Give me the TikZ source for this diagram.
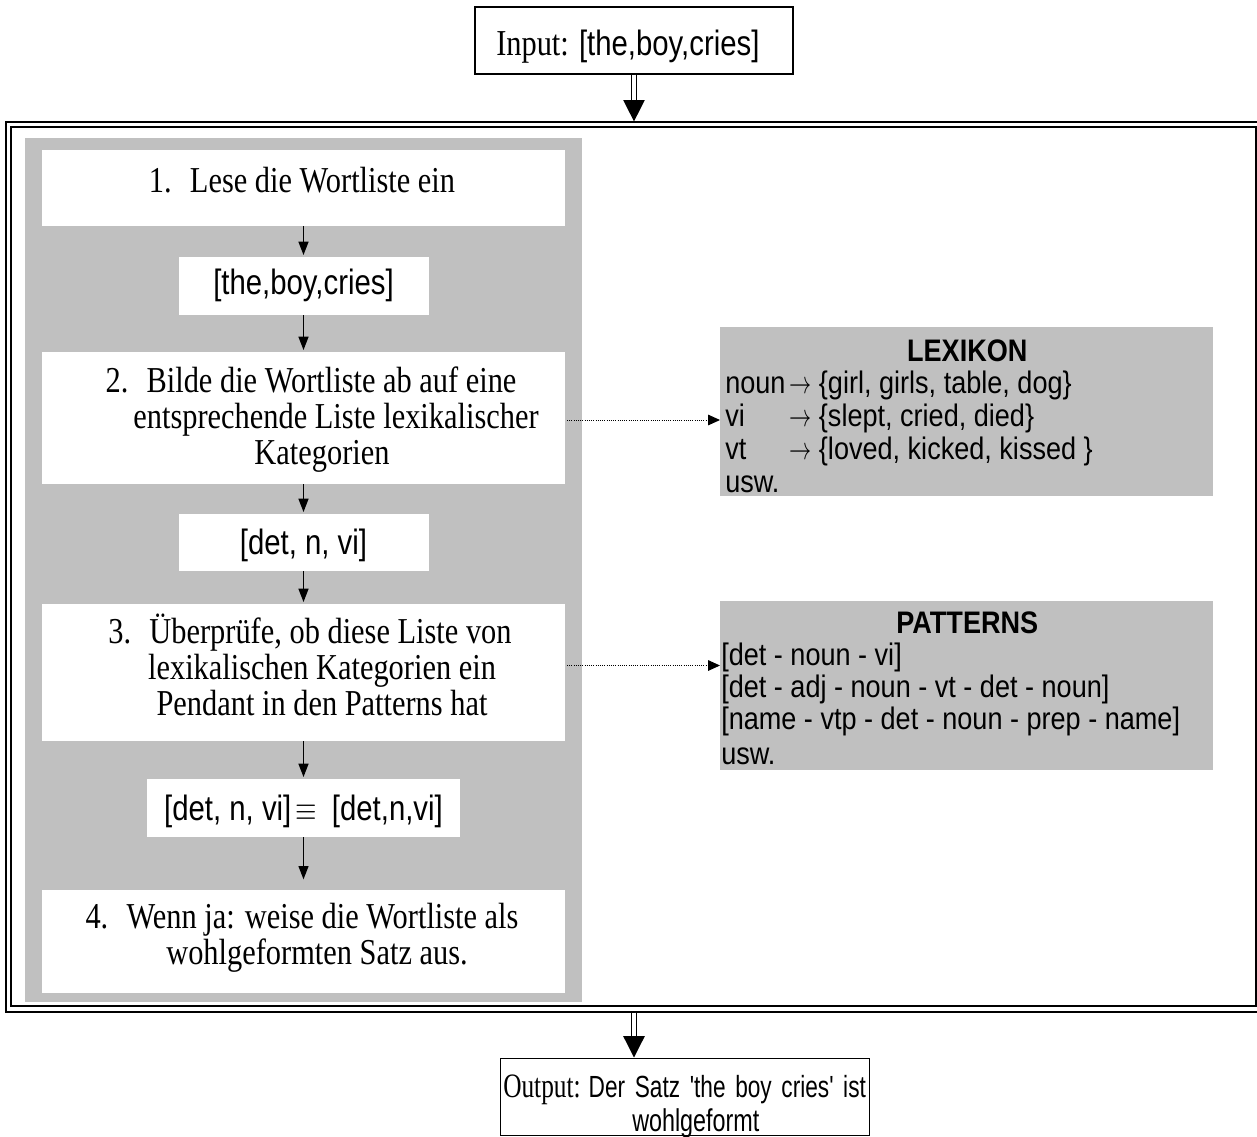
\documentclass[tikz,border=0pt]{standalone}
\usepackage{fontspec}
\usepackage{graphicx}
\setmainfont{Liberation Serif}
\setsansfont{Liberation Sans}
\usetikzlibrary{arrows.meta,calc,fit}
\definecolor{panelgray}{HTML}{C0C0C0}
\newcommand\larr{\hspace{0.1em}\scalebox{0.8}[1]{$\rightarrow$}}
\newcommand\vs[1]{\scalebox{1}[1.2]{#1}}
\newcommand\vsside[1]{\scalebox{1}[1.15]{#1}}
\newcommand\vso[1]{\scalebox{1}[1.35]{#1}}
\begin{document}
\begin{tikzpicture}[x=0.75pt,y=-0.75pt,
  wbox/.style={inner sep=0pt, outer sep=0pt, fill=white},
  gbox/.style={inner sep=0pt, outer sep=0pt, fill=panelgray},
  ser/.style={inner sep=0pt, anchor=base, font=\fontsize{22.8pt}{27pt}\selectfont},
  san/.style={inner sep=0pt, anchor=base, font=\sffamily\fontsize{22pt}{26pt}\selectfont},
  side/.style={inner sep=0pt, anchor=base west, font=\sffamily\fontsize{20.3pt}{21.5pt}\selectfont},
  arr/.style={line width=1pt, -{Triangle[width=7.5pt,length=10pt]}, shorten >=1.5pt},
  dbl/.style={double, double distance=2.6pt, line width=0.9pt, -{Triangle[width=16pt,length=16pt]}},
  dotarr/.style={line width=0.75pt, dash pattern=on 0.75pt off 0.9pt, -{Triangle[width=8pt,length=9pt]}}
]
\useasboundingbox (0,0) rectangle (1257,1136);

% input
\node[fit={(475,7)(793,74)}, inner sep=0pt, draw, line width=0.9pt] (inp) {};
\node[ser, anchor=base west] (inpt) at (496,55) {\vs{Input: \sffamily\fontsize{22pt}{26pt}\selectfont [the,boy,cries]}};

% frame
\node[fit={(6,122)(1264,1012)}, inner sep=0pt, draw, line width=0.9pt] (fo) {};
\node[fit={(11,127)(1256,1006)}, inner sep=0pt, draw, line width=1.9pt] (fi) {};

% panel
\node[gbox, fit={(25,138)(582,1002)}] (panel) {};

% step boxes
\node[wbox, fit={(42,150)(565,226)}] (s1) {};
\node[wbox, fit={(178.5,257)(428.5,315)}] (b1) {};
\node[wbox, fit={(42,352)(565,484)}] (s2) {};
\node[wbox, fit={(178.5,514)(428.5,571)}] (b2) {};
\node[wbox, fit={(42,604)(565,741)}] (s3) {};
\node[wbox, fit={(147,779)(460,837)}] (b3) {};
\node[wbox, fit={(42,890)(565,993)}] (s4) {};

% step texts
\node[ser] (s1t) at (302,192) {\vs{1.\hspace{0.6em}Lese die Wortliste ein}};
\node[san] (b1t) at (303.5,294) {\vs{[the,boy,cries]}};
\node[ser] (s2a) at (311,392) {\vs{2.\hspace{0.6em}Bilde die Wortliste ab auf eine}};
\node[ser] (s2b) at (336,428) {\vs{entsprechende Liste lexikalischer}};
\node[ser] (s2c) at (322,464) {\vs{Kategorien}};
\node[san] (b2t) at (303.5,554) {\vs{[det, n, vi]}};
\node[ser] (s3a) at (310,643) {\vs{3.\hspace{0.6em}Überprüfe, ob diese Liste von}};
\node[ser] (s3b) at (322,679) {\vs{lexikalischen Kategorien ein}};
\node[ser] (s3c) at (322,715) {\vs{Pendant in den Patterns hat}};
\node[san] (b3t) at (303.5,820) {\vs{[det, n, vi]\hspace{0.15em}$\equiv$\hspace{0.5em}[det,n,vi]}};
\node[ser] (s4a) at (302,928) {\vs{4.\hspace{0.6em}Wenn ja: weise die Wortliste als}};
\node[ser] (s4b) at (317,964) {\vs{wohlgeformten Satz aus.}};

% step arrows
\draw[arr] (s1.south) -- (b1.north);
\draw[arr] (b1.south) -- (s2.north);
\draw[arr] (s2.south) -- (b2.north);
\draw[arr] (b2.south) -- (s3.north);
\draw[arr] (s3.south) -- (b3.north);
\draw[arr, shorten >=8pt] (b3.south) -- (s4.north);

% side boxes
\node[gbox, fit={(720,327)(1213,496)}] (lex) {};
\node[side] (lext) at (725,361) {\vsside{%
\begin{tabular}[t]{@{}l@{}}
\makebox[363pt][c]{\bfseries LEXIKON}\\
\makebox[46pt][l]{noun}\larr\ \{girl, girls, table, dog\}\\
\makebox[46pt][l]{vi}\larr\ \{slept, cried, died\}\\
\makebox[46pt][l]{vt}\larr\ \{loved, kicked, kissed \}\\
usw.
\end{tabular}}};
\node[gbox, fit={(720,601)(1213,770)}] (pat) {};
\node[side, font=\sffamily\fontsize{20.3pt}{20.9pt}\selectfont] (patt) at (721,633) {\vsside{%
\begin{tabular}[t]{@{}l@{}}
\makebox[369pt][c]{\bfseries PATTERNS}\\
{[}det - noun - vi]\\
{[}det - adj - noun - vt - det - noun]\\
{[}name - vtp - det - noun - prep - name]\\[2pt]
usw.
\end{tabular}}};

% dotted connectors
\draw[dotarr] ($(s2.east)+(2,2)$) -- ($(s2.east -| lex.west)+(0,2)$);
\draw[dotarr] ($(s3.east)+(2,-7)$) -- ($(s3.east -| pat.west)+(0,-7)$);

% output
\node[fit={(500,1058)(869,1135.5)}, inner sep=0pt, draw, line width=0.75pt] (out) {};
\node[inner sep=0pt, anchor=base west] (outa) at (503,1097) {\vso{\makebox[272pt][s]{{\fontsize{19pt}{20pt}\selectfont Output:} \sffamily\fontsize{17pt}{20pt}\selectfont Der Satz \textquotesingle the boy cries\textquotesingle\ ist}}};
\node[inner sep=0pt, anchor=base west, font=\sffamily\fontsize{17.5pt}{20pt}\selectfont] (outb) at (632,1131) {\vso{wohlgeformt}};

% double arrows
\draw[dbl] (inp.south) -- (inp.south |- fo.north);
\draw[dbl] (inp.south |- fo.south) -- (inp.south |- out.north);
\end{tikzpicture}
\end{document}
